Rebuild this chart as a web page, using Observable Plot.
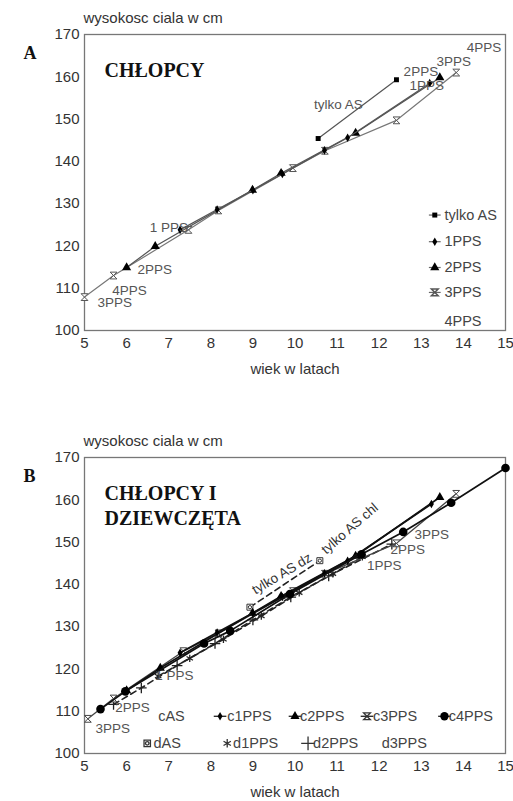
<!DOCTYPE html>
<html><head><meta charset="utf-8">
<script src="https://cdn.jsdelivr.net/npm/d3@7"></script>
<script src="https://cdn.jsdelivr.net/npm/@observablehq/plot@0.6"></script>
<style>
body{margin:0;background:#fff;}
#chart{width:513px;}
#chart svg{display:block;}
</style></head><body><div id="chart"></div>
<script>
// ---------- shared axis ticks ----------
const ticksX = [5,6,7,8,9,10,11,12,13,14,15];
const ticksY = [100,110,120,130,140,150,160,170];
const xTitle = "wiek w latach";
const yTitle = "wysokosc ciala w cm";

// ---------- Panel A : CHŁOPCY ----------
const aAS_age   = [10.55, 12.41];
const aAS_h     = [145.4, 159.3];
const a1PPS_age = [7.27, 8.15, 9.0, 9.7, 10.7, 11.25, 13.2];
const a1PPS_h   = [123.8, 128.6, 133.2, 137.0, 142.6, 145.6, 158.5];
const a2PPS_age = [6.0, 6.68, 8.99, 9.67, 11.44, 13.44];
const a2PPS_h   = [114.9, 119.9, 133.2, 137.2, 146.7, 159.8];
const a3PPS_age = [5.0, 5.69, 7.47, 8.18, 9.95, 10.71, 12.41, 13.83];
const a3PPS_h   = [107.9, 113.0, 123.8, 128.4, 138.4, 142.5, 149.7, 161.0];

const aLabelText = ["tylko AS", "2PPS", "1PPS", "3PPS", "4PPS", "1 PPS", "2PPS", "4PPS", "3PPS"];
const aLabelAge  = [10.45, 12.58, 12.72, 13.36, 14.08, 6.55, 6.26, 5.66, 5.31];
const aLabelH    = [153.5, 161.3, 158.0, 163.6, 167.0, 124.3, 114.4, 109.5, 106.5];
const aLegend    = ["tylko AS", "1PPS", "2PPS", "3PPS", "4PPS"];

// ---------- Panel B : CHŁOPCY I DZIEWCZĘTA ----------
const c1PPS_age = [7.27, 8.15, 9.0, 9.7, 10.7, 11.25, 13.24];
const c1PPS_h   = [123.8, 128.6, 133.2, 137.0, 142.6, 145.6, 159.0];
const c2PPS_age = [6.0, 6.8, 8.99, 9.67, 11.44, 13.44];
const c2PPS_h   = [114.9, 120.2, 133.2, 137.2, 146.7, 160.6];
const c3PPS_age = [5.08, 5.69, 7.35, 8.18, 9.95, 10.71, 12.41, 13.83];
const c3PPS_h   = [108.2, 113.0, 124.2, 128.4, 138.4, 142.5, 149.7, 161.4];
const c4PPS_age = [5.38, 5.97, 7.84, 8.46, 9.88, 11.58, 12.57, 13.71, 15.0];
const c4PPS_h   = [110.5, 114.7, 126.0, 129.0, 137.7, 147.1, 152.4, 159.3, 167.5];
const dAS_age   = [8.93, 10.59];
const dAS_h     = [134.6, 145.6];
const d1PPS_age = [6.75, 7.5, 8.3, 9.2, 10.1, 10.9, 11.6];
const d1PPS_h   = [118.3, 122.5, 127.0, 132.5, 138.0, 142.5, 146.5];
const d2PPS_age = [5.69, 6.35, 7.2, 8.1, 9.0, 9.9, 10.8, 12.3];
const d2PPS_h   = [111.6, 115.5, 120.8, 126.0, 131.6, 137.0, 142.0, 149.5];

const bLabelText = ["3PPS", "2PPS", "1 PPS", "1PPS", "2PPS", "3PPS"];
const bLabelAge  = [5.26, 5.73, 6.68, 11.71, 12.27, 12.84];
const bLabelH    = [105.9, 110.9, 118.3, 144.4, 148.2, 151.7];
const bRotText   = ["tylko AS dz", "tylko AS chl"];
const bRotAge    = [9.69, 11.3];
const bRotH      = [142.5, 153.2];
const bRotAngle  = [-31, -41];
const bLegendRow1 = ["cAS", "c1PPS", "c2PPS", "c3PPS", "c4PPS"];
const bLegendRow2 = ["dAS", "d1PPS", "d2PPS", "d3PPS"];

// ---------- helpers ----------
const FONT = "'Liberation Sans', Arial, sans-serif";
const SERIF = "'Liberation Serif', 'DejaVu Serif', serif";
const rows = (ages, hs) => ages.map((a, i) => ({age: a, h: hs[i]}));
const labels = (t, a, h) => t.map((s, i) => ({text: s, age: a[i], h: h[i]}));

const hourglass = {draw(ctx, size) {
  const r = Math.sqrt(size / Math.PI);
  ctx.moveTo(-r, -r); ctx.lineTo(r, -r); ctx.lineTo(-r, r); ctx.lineTo(r, r); ctx.closePath();
}};
const boxCircle = {draw(ctx, size) {
  const r = Math.sqrt(size / Math.PI);
  ctx.moveTo(-r, -r); ctx.lineTo(r, -r); ctx.lineTo(r, r); ctx.lineTo(-r, r); ctx.closePath();
  const c = r * 0.55; ctx.moveTo(c, 0); ctx.arc(0, 0, c, 0, 2 * Math.PI);
}};

function series(ages, hs, {stroke = "#666", width = 1.2, dash = null, symbol, r = 3, fill = "black", mstroke = "none", mwidth = 1}) {
  const d = rows(ages, hs);
  const m = [Plot.line(d, {x: "age", y: "h", stroke, strokeWidth: width, strokeDasharray: dash})];
  if (symbol) m.push(Plot.dot(d, {x: "age", y: "h", symbol, r, fill, stroke: mstroke, strokeWidth: mwidth}));
  return m;
}

function common(letter, titleLines) {
  const m = [
    Plot.frame({stroke: "#777", strokeWidth: 1.3}),
    Plot.text([yTitle], {text: d => d, frameAnchor: "top-left", lineAnchor: "middle", textAnchor: "start", dx: -1, dy: -16, fill: "#333", fontSize: 15}),
    Plot.text([xTitle], {text: d => d, frameAnchor: "bottom", lineAnchor: "middle", dy: 39, fill: "#333", fontSize: 15}),
    Plot.text([letter], {text: d => d, frameAnchor: "top-left", lineAnchor: "middle", dx: -61, dy: 19, fontFamily: SERIF, fontWeight: "bold", fontSize: 18, fill: "#111"})
  ];
  titleLines.forEach((t, i) => m.push(Plot.text([t], {text: d => d, frameAnchor: "top-left", lineAnchor: "middle", textAnchor: "start", dx: 20, dy: 36 + i * 25, fontFamily: SERIF, fontWeight: "bold", fontSize: 20, fill: "#111"})));
  return m;
}

function panel(marginTop, height, marks) {
  return Plot.plot({
    width: 513, height, marginLeft: 84, marginRight: 8, marginTop, marginBottom: height - marginTop - 296,
    x: {domain: [5, 15], ticks: ticksX, tickSize: 0, tickPadding: 7, label: null},
    y: {domain: [100, 170], ticks: ticksY, tickSize: 0, tickPadding: 5, label: null},
    style: {fontFamily: FONT, fontSize: "15px", color: "#333", background: "white", overflow: "visible"},
    marks
  });
}

// ---------- Panel A ----------
const legendA = [];
const symA = ["square", "diamond", "triangle", hourglass, null];
const rA = [2.8, 2.6, 3.4, 3.4, 0];
const rowHA = [127.3, 121.0, 114.9, 109.0, 102.1];
aLegend.forEach((t, i) => {
  const row = [{t, h: rowHA[i]}];
  if (symA[i]) {
    legendA.push(Plot.link(row, {x1: 13.18, x2: 13.46, y1: "h", y2: "h", stroke: "#666", strokeWidth: 1.2}));
    legendA.push(Plot.dot(row, {x: 13.32, y: "h", symbol: symA[i], r: rA[i], fill: symA[i] === hourglass ? "white" : "black", stroke: symA[i] === hourglass ? "#555" : "none"}));
  }
  legendA.push(Plot.text(row, {x: 13.55, y: "h", text: "t", textAnchor: "start", fill: "#444", fontSize: 14.5}));
});

const chartA = panel(34, 380, [
  ...common("A", ["CHŁOPCY"]),
  ...series(a3PPS_age, a3PPS_h, {stroke: "#777", symbol: hourglass, r: 3.4, fill: "white", mstroke: "#555"}),
  ...series(a2PPS_age, a2PPS_h, {stroke: "#555", symbol: "triangle", r: 3.4}),
  ...series(a1PPS_age, a1PPS_h, {stroke: "#555", symbol: "diamond", r: 2.6}),
  ...series(aAS_age, aAS_h, {stroke: "#555", symbol: "square", r: 2.8}),
  Plot.text(labels(aLabelText, aLabelAge, aLabelH), {x: "age", y: "h", text: "text", textAnchor: "start", fill: "#555", fontSize: 13.5}),
  ...legendA
]);

// ---------- Panel B ----------
const legendB = [];
const row1H = 108.8, row2H = 102.4;
const row1TextAge = [6.75, 8.39, 10.12, 11.85, 13.65];
const row1MarkAge = [null, 8.22, 10.0, 11.71, 13.55];
const row1Sym = [null, "diamond", "triangle", hourglass, "circle"];
const row1R = [0, 2.6, 3.4, 3.4, 4.2];
const row2TextAge = [6.64, 8.53, 10.43, 12.06];
const row2MarkAge = [6.49, 8.39, 10.31, null];
const row2Sym = [boxCircle, "asterisk", "plus", null];
const row2R = [3.2, 4, 4.5, 0];
function legendRow(names, h, textAges, markAges, syms, rs, solid) {
  names.forEach((t, i) => {
    const row = [{t, h}];
    if (syms[i]) {
      if (solid) legendB.push(Plot.link(row, {x1: markAges[i] - 0.15, x2: markAges[i] + 0.15, y1: "h", y2: "h", stroke: "#222", strokeWidth: 1.3}));
      const strokeSym = syms[i] === hourglass || syms[i] === boxCircle || syms[i] === "asterisk" || syms[i] === "plus";
      legendB.push(Plot.dot(row, {x: markAges[i], y: "h", symbol: syms[i], r: rs[i], fill: strokeSym ? "none" : "black", stroke: strokeSym ? "#333" : "none", strokeWidth: 1.3}));
    }
    legendB.push(Plot.text(row, {x: textAges[i], y: "h", text: "t", textAnchor: "start", fill: "#444", fontSize: 14.5}));
  });
}
legendRow(bLegendRow1, row1H, row1TextAge, row1MarkAge, row1Sym, row1R, true);
legendRow(bLegendRow2, row2H, row2TextAge, row2MarkAge, row2Sym, row2R, false);

const dashed = "6,4";
const chartB = panel(77, 421, [
  ...common("B", ["CHŁOPCY I", "DZIEWCZĘTA"]),
  ...series(d2PPS_age, d2PPS_h, {stroke: "#222", width: 1.6, dash: dashed, symbol: "plus", r: 3.5, fill: "none", mstroke: "#222", mwidth: 1.3}),
  ...series(d1PPS_age, d1PPS_h, {stroke: "#222", width: 1.6, dash: dashed, symbol: "asterisk", r: 3.5, fill: "none", mstroke: "#222", mwidth: 1.3}),
  ...series(dAS_age, dAS_h, {stroke: "#222", width: 1.6, dash: dashed, symbol: boxCircle, r: 3, fill: "white", mstroke: "#333", mwidth: 1}),
  ...series(c3PPS_age, c3PPS_h, {stroke: "#444", width: 1.3, symbol: hourglass, r: 3.4, fill: "white", mstroke: "#444"}),
  ...series(c2PPS_age, c2PPS_h, {stroke: "#111", width: 1.7, symbol: "triangle", r: 3.4}),
  ...series(c1PPS_age, c1PPS_h, {stroke: "#111", width: 1.7, symbol: "diamond", r: 2.6}),
  ...series(c4PPS_age, c4PPS_h, {stroke: "#111", width: 1.7, symbol: "circle", r: 4.3}),
  Plot.text(labels(bLabelText, bLabelAge, bLabelH), {x: "age", y: "h", text: "text", textAnchor: "start", fill: "#555", fontSize: 13.5}),
  ...bRotText.map((t, i) => Plot.text([{t, age: bRotAge[i], h: bRotH[i]}], {x: "age", y: "h", text: "t", rotate: bRotAngle[i], fill: "#333", fontSize: 13.5})),
  ...legendB
]);

document.getElementById("chart").append(chartA, chartB);
</script>
</body></html>
